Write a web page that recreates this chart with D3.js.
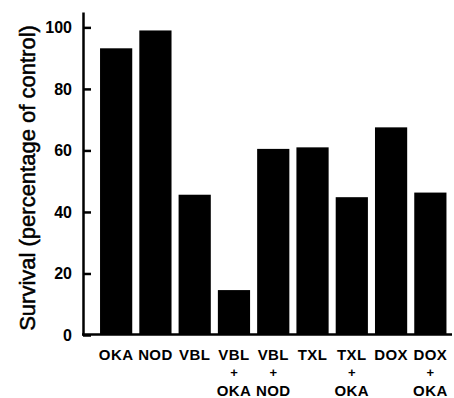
<!DOCTYPE html>
<html>
<head>
<meta charset="utf-8">
<script src="https://cdn.jsdelivr.net/npm/d3@7"></script>
<style>
  body { margin: 0; background: #fff; }
  svg { display: block; font-family: "Liberation Sans", Arial, sans-serif; }
</style>
</head>
<body>
<svg width="454" height="398"></svg>
<script>
// data
var labelTop = ["OKA", "NOD", "VBL", "VBL", "VBL", "TXL", "TXL", "DOX", "DOX"];
var labelBottom = ["", "", "", "OKA", "NOD", "", "OKA", "", "OKA"];
var survival = [93.2, 99, 45.6, 14.6, 60.5, 61, 44.8, 67.5, 46.3];
var yTicks = [0, 20, 40, 60, 80, 100];

var svg = d3.select("svg");
var keys = d3.range(survival.length);

var x = d3.scaleBand()
    .domain(keys)
    .range([96.5, 450])
    .paddingInner(0.18)
    .paddingOuter(0.09);

var y = d3.scaleLinear()
    .domain([0, 105])
    .range([335, 12]);

// bars
svg.append("g").selectAll("rect")
    .data(keys)
    .enter().append("rect")
    .attr("x", function(i) { return x(i); })
    .attr("y", function(i) { return y(survival[i]); })
    .attr("width", x.bandwidth())
    .attr("height", function(i) { return y(0) - y(survival[i]); })
    .attr("fill", "#000");

// y axis, ticks point inward
var yAxis = svg.append("g")
    .attr("transform", "translate(83,0)")
    .call(d3.axisLeft(y).tickValues(yTicks).tickSizeInner(-8).tickSizeOuter(0).tickPadding(11));
yAxis.select(".domain").attr("stroke-width", 2.5);
yAxis.selectAll(".tick line").attr("stroke-width", 2.5);
yAxis.selectAll(".tick text")
    .attr("font-size", 16)
    .attr("font-weight", "bold")
    .attr("font-family", "Liberation Sans, Arial, sans-serif")
    .attr("fill", "#000");

// baseline
svg.append("line")
    .attr("x1", 82).attr("x2", 452)
    .attr("y1", y(0) - 0.5).attr("y2", y(0) - 0.5)
    .attr("stroke", "#000")
    .attr("stroke-width", 2.5);

// category labels (stacked)
var lab = svg.append("g")
    .attr("font-size", 15)
    .attr("font-weight", "bold")
    .attr("text-anchor", "middle")
    .attr("fill", "#000");

keys.forEach(function(i) {
    var cx = x(i) + x.bandwidth() / 2;
    lab.append("text").attr("x", cx).attr("y", 360).attr("letter-spacing", 0.4).text(labelTop[i]);
    if (labelBottom[i]) {
        lab.append("text").attr("x", cx).attr("y", 377).attr("font-size", 13).text("+");
        lab.append("text").attr("x", cx).attr("y", 395.5).attr("letter-spacing", 0.4).text(labelBottom[i]);
    }
});

// y title
svg.append("text")
    .attr("transform", "translate(35,178) rotate(-90)")
    .attr("text-anchor", "middle")
    .attr("font-size", 22)
    .attr("fill", "#000")
    .attr("stroke", "#000")
    .attr("stroke-width", 0.5)
    .text("Survival (percentage of control)");
</script>
</body>
</html>
